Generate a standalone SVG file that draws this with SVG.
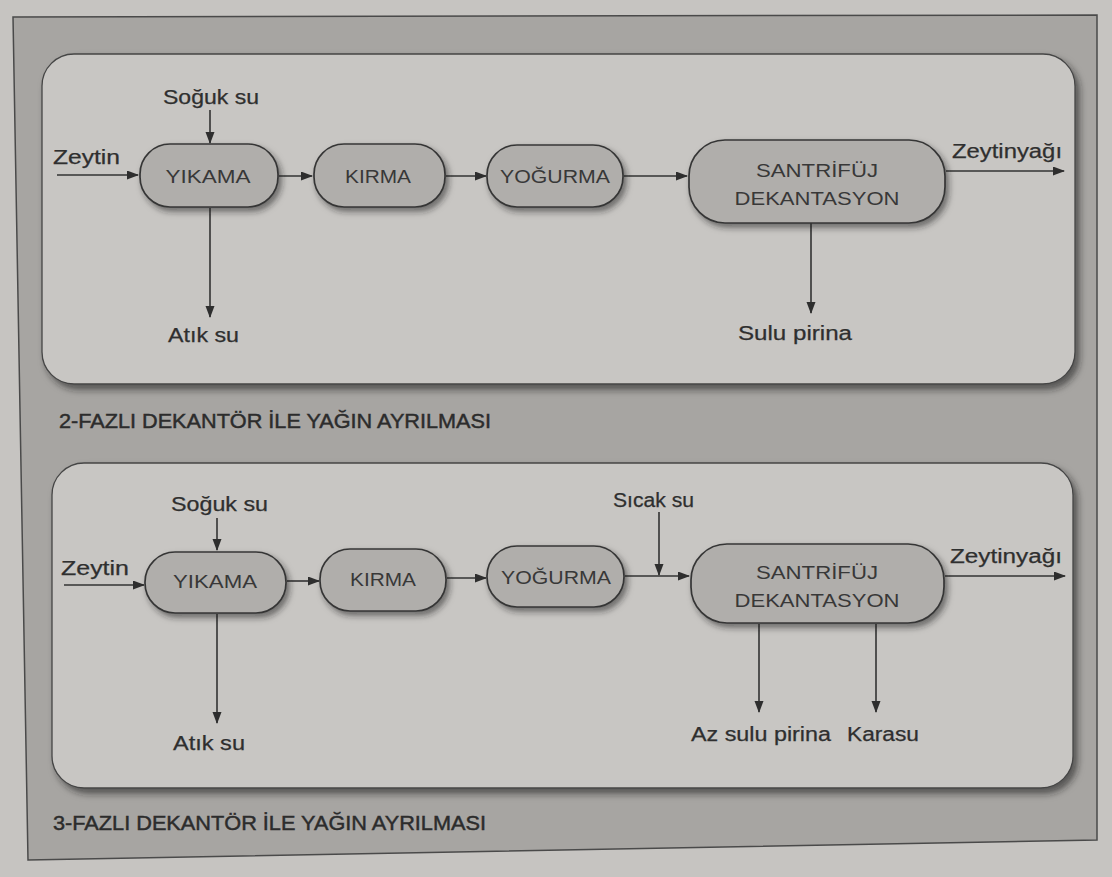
<svg xmlns="http://www.w3.org/2000/svg" width="1112" height="877" viewBox="0 0 1112 877">
<style>
.lbl{font-family:"Liberation Sans",Arial,sans-serif;font-size:20px;fill:#2f2f2f;stroke:#2f2f2f;stroke-width:0.25}
.ntx{font-family:"Liberation Sans",Arial,sans-serif;font-size:19px;fill:#383838;text-anchor:middle}
.cap{font-family:"Liberation Sans",Arial,sans-serif;font-size:20px;fill:#2c2c2c;stroke:#2c2c2c;stroke-width:0.45}
.node{fill:#b0aeab;stroke:#363636;stroke-width:1.7}
.box{fill:#c8c6c3;stroke:#454545;stroke-width:1.3}
.con{stroke:#333;stroke-width:1.6;fill:none;marker-end:url(#ah)}
</style>
<defs>
<marker id="ah" markerUnits="userSpaceOnUse" markerWidth="12" markerHeight="10" refX="11" refY="4.5" orient="auto">
<path d="M0,0 L12,4.5 L0,9 z" fill="#2e2e2e"/>
</marker>
<filter id="sh" x="-10%" y="-20%" width="130%" height="150%">
<feDropShadow dx="3" dy="4" stdDeviation="3" flood-color="#222" flood-opacity="0.55"/>
</filter>
<filter id="shb" x="-5%" y="-5%" width="110%" height="115%">
<feDropShadow dx="4" dy="5" stdDeviation="3.5" flood-color="#222" flood-opacity="0.6"/>
</filter>
</defs>
<rect x="0" y="0" width="1112" height="877" fill="#c6c4c1"/>
<polygon points="13,17 1097,15 1097,840 28,860" fill="#a7a5a2" stroke="#4a4a4a" stroke-width="1.5"/>

<rect class="box" x="42" y="54" width="1033" height="330" rx="32" filter="url(#shb)"/>
<rect class="box" x="52" y="463" width="1021" height="325" rx="32" filter="url(#shb)"/>

<text class="cap" x="59" y="428" textLength="432" lengthAdjust="spacingAndGlyphs">2-FAZLI DEKANTÖR İLE YAĞIN AYRILMASI</text>
<text class="cap" x="53" y="830" textLength="433" lengthAdjust="spacingAndGlyphs">3-FAZLI DEKANTÖR İLE YAĞIN AYRILMASI</text>

<g id="connectors">
<line class="con" x1="57" y1="175" x2="138" y2="175"/>
<line class="con" x1="210" y1="110" x2="210" y2="143"/>
<line class="con" x1="210" y1="208" x2="210" y2="317"/>
<line class="con" x1="279" y1="176" x2="312" y2="176"/>
<line class="con" x1="446" y1="176" x2="486" y2="176"/>
<line class="con" x1="624" y1="176" x2="687" y2="176"/>
<line class="con" x1="946" y1="171" x2="1064" y2="171"/>
<line class="con" x1="811" y1="223" x2="811" y2="313"/>

<line class="con" x1="64" y1="585" x2="144" y2="585"/>
<line class="con" x1="217" y1="518" x2="217" y2="550"/>
<line class="con" x1="217" y1="614" x2="217" y2="723"/>
<line class="con" x1="287" y1="581" x2="319" y2="581"/>
<line class="con" x1="447" y1="578" x2="486" y2="578"/>
<line class="con" x1="625" y1="576" x2="689" y2="576"/>
<line class="con" x1="659" y1="512" x2="659" y2="575"/>
<line class="con" x1="945" y1="576" x2="1065" y2="576"/>
<line class="con" x1="759" y1="624" x2="759" y2="712"/>
<line class="con" x1="876" y1="624" x2="876" y2="712"/>
</g>

<g id="t-yikama"><rect class="node" x="140" y="144" width="138" height="63" rx="30" filter="url(#sh)"/><text class="ntx" x="208" y="183" textLength="85" lengthAdjust="spacingAndGlyphs">YIKAMA</text></g>
<g id="t-kirma"><rect class="node" x="314" y="144" width="131" height="63" rx="30" filter="url(#sh)"/><text class="ntx" x="378" y="183" textLength="66" lengthAdjust="spacingAndGlyphs">KIRMA</text></g>
<g id="t-yogurma"><rect class="node" x="487" y="145" width="136" height="62" rx="30" filter="url(#sh)"/><text class="ntx" x="555" y="183" textLength="110" lengthAdjust="spacingAndGlyphs">YOĞURMA</text></g>
<g id="t-santrifuj"><rect class="node" x="689" y="140" width="256" height="83" rx="36" filter="url(#sh)"/><text class="ntx" x="817" y="177" textLength="122" lengthAdjust="spacingAndGlyphs">SANTRİFÜJ</text><text class="ntx" x="817" y="205" textLength="165" lengthAdjust="spacingAndGlyphs">DEKANTASYON</text></g>
<g id="t-labels">
<text class="lbl" x="53" y="164" textLength="67" lengthAdjust="spacingAndGlyphs">Zeytin</text>
<text class="lbl" x="163" y="104" textLength="96" lengthAdjust="spacingAndGlyphs">Soğuk su</text>
<text class="lbl" x="168" y="342" textLength="71" lengthAdjust="spacingAndGlyphs">Atık su</text>
<text class="lbl" x="952" y="158" textLength="110" lengthAdjust="spacingAndGlyphs">Zeytinyağı</text>
<text class="lbl" x="738" y="340" textLength="114" lengthAdjust="spacingAndGlyphs">Sulu pirina</text>
</g>

<g id="b-yikama"><rect class="node" x="145" y="552" width="141" height="61" rx="30" filter="url(#sh)"/><text class="ntx" x="215" y="588" textLength="84" lengthAdjust="spacingAndGlyphs">YIKAMA</text></g>
<g id="b-kirma"><rect class="node" x="320" y="549" width="126" height="62" rx="30" filter="url(#sh)"/><text class="ntx" x="383" y="586" textLength="66" lengthAdjust="spacingAndGlyphs">KIRMA</text></g>
<g id="b-yogurma"><rect class="node" x="487" y="546" width="137" height="61" rx="30" filter="url(#sh)"/><text class="ntx" x="556" y="584" textLength="110" lengthAdjust="spacingAndGlyphs">YOĞURMA</text></g>
<g id="b-santrifuj"><rect class="node" x="691" y="544" width="253" height="79" rx="36" filter="url(#sh)"/><text class="ntx" x="817" y="579" textLength="122" lengthAdjust="spacingAndGlyphs">SANTRİFÜJ</text><text class="ntx" x="817" y="607" textLength="165" lengthAdjust="spacingAndGlyphs">DEKANTASYON</text></g>
<g id="b-labels">
<text class="lbl" x="61" y="575" textLength="68" lengthAdjust="spacingAndGlyphs">Zeytin</text>
<text class="lbl" x="171" y="511" textLength="97" lengthAdjust="spacingAndGlyphs">Soğuk su</text>
<text class="lbl" x="173" y="750" textLength="72" lengthAdjust="spacingAndGlyphs">Atık su</text>
<text class="lbl" x="613" y="507" textLength="81" lengthAdjust="spacingAndGlyphs">Sıcak su</text>
<text class="lbl" x="950" y="563" textLength="112" lengthAdjust="spacingAndGlyphs">Zeytinyağı</text>
<text class="lbl" x="691" y="741" textLength="140" lengthAdjust="spacingAndGlyphs">Az sulu pirina</text>
<text class="lbl" x="847" y="741" textLength="72" lengthAdjust="spacingAndGlyphs">Karasu</text>
</g>
</svg>
